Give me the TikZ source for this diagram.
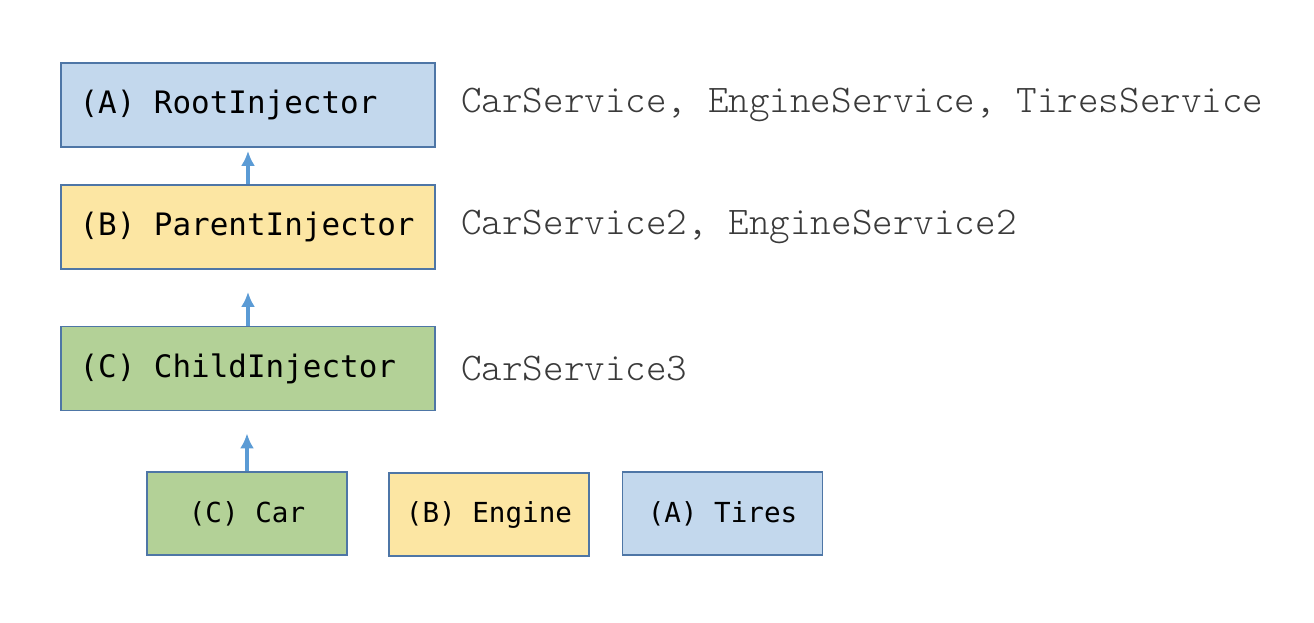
\documentclass[tikz,border=0pt]{standalone}
\usepackage{fontspec}
\usepackage{xcolor}
\usetikzlibrary{arrows.meta}
\usetikzlibrary{positioning}
\newfontfamily\boxfont{DejaVu Sans Mono}
\newfontfamily\svcfont{Latin Modern Mono Light}
\definecolor{injblue}{HTML}{C3D8ED}
\definecolor{injyellow}{HTML}{FCE6A3}
\definecolor{injgreen}{HTML}{B3D197}
\definecolor{injline}{HTML}{4E76A6}
\definecolor{arrowblue}{HTML}{5B9BD5}
\definecolor{svcgray}{HTML}{3A3A3A}
\newcommand{\injlabel}[1]{\makebox[6.74cm][l]{#1}}

\begin{document}
\begin{tikzpicture}[x=0.02cm, y=-0.02cm,
    injbox/.style={draw=injline, line width=1.1pt, minimum height=1.68cm, minimum width=7.48cm,
      inner xsep=0.32cm, font=\boxfont\fontsize{17.6}{20}\selectfont},
    compbox/.style={draw=injline, line width=1.1pt, minimum width=4cm, minimum height=1.66cm,
      font=\boxfont\fontsize{15.7}{18}\selectfont},
    svclabel/.style={inner sep=0pt, text=svcgray, font=\svcfont\fontsize{22.3}{24}\selectfont},
    uparrow/.style={-{Latex[length=8.5pt,width=8pt]}, arrowblue, line width=1.8pt}]
  \useasboundingbox (0,0) rectangle (1314,622);

  % injectors
  \node[injbox, fill=injblue] (rootinj) at (248,105) {\injlabel{(A) RootInjector}};
  \node[injbox, fill=injyellow] (parentinj) at (248,227) {\injlabel{(B) ParentInjector}};
  \node[injbox, fill=injgreen] (childinj) at (248,368.5) {\injlabel{(C) ChildInjector}};

  % services of each injector
  \node[svclabel, right=0.5cm of rootinj] (rootsvc) {CarService, EngineService, TiresService};
  \node[svclabel, right=0.5cm of parentinj] (parentsvc) {CarService2, EngineService2};
  \node[svclabel, right=0.5cm of childinj] (childsvc) {CarService3};

  % components
  \node[compbox, fill=injgreen] (car) at (247,513.5) {(C) Car};
  \node[compbox, fill=injyellow] (engine) at (489,514.5) {(B) Engine};
  \node[compbox, fill=injblue] (tires) at (722.5,513.5) {(A) Tires};

  \draw[uparrow, shorten >=0.06cm] (parentinj.north) -- (rootinj.south);
  \draw[uparrow, shorten >=0.44cm] (childinj.north) -- (parentinj.south);
  \draw[uparrow, shorten >=0.44cm] (car.north) -- (car.north |- childinj.south);
\end{tikzpicture}
\end{document}
